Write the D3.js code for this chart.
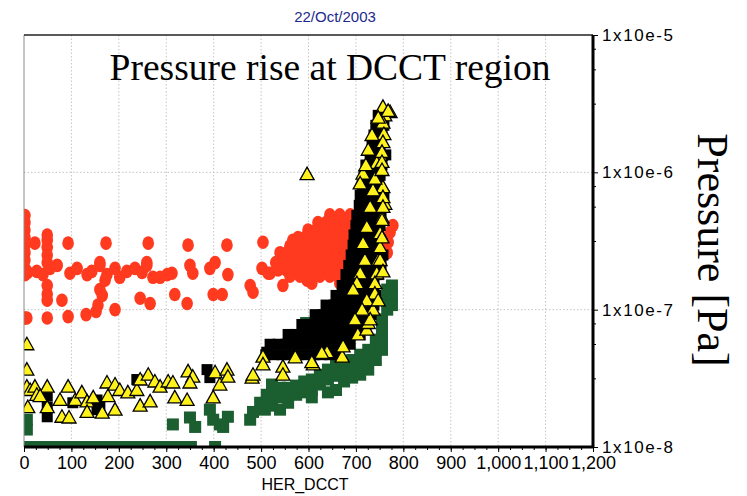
<!DOCTYPE html>
<html><head><meta charset="utf-8">
<script src="https://cdn.jsdelivr.net/npm/d3@7"></script>
<style>body{margin:0;background:#fff}svg{display:block}</style>
</head><body><svg id="c" width="747" height="496"></svg>
<script>
const dateTitle = "22/Oct/2003";
const mainTitle = "Pressure rise at DCCT region";
const xLabel = "HER_DCCT";
const yLabel = "Pressure [Pa]";
const xTicks = [0,100,200,300,400,500,600,700,800,900,1000,1100,1200];
const yTicks = [1e-8,1e-7,1e-6,1e-5];
const yTickLabels = ["1x10e-8","1x10e-7","1x10e-6","1x10e-5"];

// red circles (gauge 1)
const red = [
[2,4.85e-7],[2,4.3e-7],[2,3.8e-7],[2,3.35e-7],[2,2.95e-7],[2,2.6e-7],[2,2.3e-7],[2,2.0e-7],[2,1.8e-7],[2,8.7e-8],
[23,3.05e-7],[49,3.5e-7],[49,3.2e-7],[49,2.85e-7],[93,3.05e-7],[173,3.05e-7],[262,3.05e-7],[346,2.95e-7],[428,2.95e-7],[504,3.1e-7],
[8,1.87e-7],[27,1.9e-7],[40,1.8e-7],[55,2.0e-7],[70,2.1e-7],[97,1.84e-7],[112,2.0e-7],[133,1.8e-7],[143,1.9e-7],[160,2.1e-7],[175,1.8e-7],[192,2.0e-7],[202,1.72e-7],[217,1.9e-7],[234,2.0e-7],[249,1.87e-7],[259,2.1e-7],[272,1.72e-7],[287,1.72e-7],[302,1.8e-7],[312,1.84e-7],
[160,2.2e-7],[259,2.2e-7],[350,2.1e-7],[356,1.84e-7],[392,2.0e-7],[403,2.2e-7],[430,1.8e-7],[502,2.0e-7],[515,1.84e-7],
[49,2.5e-7],[49,2.2e-7],[49,1.5e-7],[49,1.3e-7],[49,1.17e-7],[80,1.17e-7],[160,1.4e-7],[156,1.08e-7],[152,9.7e-8],[171,1.64e-7],[165,1.27e-7],[192,1.0e-7],[245,1.21e-7],[266,1.11e-7],[318,1.29e-7],[344,1.11e-7],[399,1.29e-7],[418,1.29e-7],[477,1.5e-7],[483,1.34e-7],
[6,8.7e-8],[49,8.7e-8],[93,8.9e-8],[131,9.2e-8],
[519,1.84e-7],[546,1.5e-7],[607,1.56e-7],[666,1.56e-7],[567,3.2e-7],[593,3.36e-7],[540,2.6e-7],[597,1.64e-7],[561,2.85e-7],
[645,4.9e-7],[666,4.9e-7],[688,4.9e-7],[704,4.9e-7],
[620,4.3e-7],[637,4.3e-7],[654,4.3e-7],[671,4.3e-7],[688,4.3e-7],
[599,3.8e-7],[616,3.8e-7],[633,3.8e-7],[650,3.8e-7],[666,3.8e-7],[683,3.8e-7],
[578,3.35e-7],[595,3.35e-7],[612,3.35e-7],[628,3.35e-7],[645,3.35e-7],[662,3.35e-7],[679,3.35e-7],
[561,2.9e-7],[578,2.9e-7],[595,2.9e-7],[612,2.9e-7],[628,2.9e-7],[645,2.9e-7],[662,2.9e-7],[679,2.9e-7],
[544,2.55e-7],[561,2.55e-7],[578,2.55e-7],[595,2.55e-7],[612,2.55e-7],[628,2.55e-7],[645,2.55e-7],[662,2.55e-7],[679,2.55e-7],
[531,2.2e-7],[548,2.2e-7],[565,2.2e-7],[582,2.2e-7],[599,2.2e-7],[616,2.2e-7],[633,2.2e-7],[650,2.2e-7],[666,2.2e-7],
[536,1.95e-7],[553,1.95e-7],[569,1.95e-7],[586,1.95e-7],[603,1.95e-7],[620,1.95e-7],[637,1.95e-7],[654,1.95e-7],[671,1.95e-7],
[561,1.75e-7],[582,1.75e-7],[603,1.75e-7],[624,1.75e-7],[645,1.75e-7],[662,1.75e-7],
[772,3.66e-7],[766,2.6e-7],[778,4.1e-7],[768,3.1e-7]
];

// dark green squares (gauge 2)
const green = [
[11,1e-8],[28,1e-8],[45,1e-8],[62,1e-8],[79,1e-8],[96,1e-8],[113,1e-8],[130,1e-8],[147,1e-8],[164,1e-8],[181,1e-8],[198,1e-8],[215,1e-8],[232,1e-8],[249,1e-8],[266,1e-8],[283,1e-8],[300,1e-8],[317,1e-8],[334,1e-8],[352,1e-8],[403,1e-8],
[6,1.58e-8],[6,1.34e-8],[314,1.46e-8],[350,1.64e-8],[361,1.4e-8],[392,1.87e-8],[399,1.58e-8],[420,1.4e-8],[430,1.66e-8],[413,1.46e-8],[477,1.58e-8],[498,2.1e-8],[512,2.4e-8],[508,1.87e-8],[483,1.8e-8],[595,8.0e-8],
[523,2.85e-8],[523,2.4e-8],[523,2.0e-8],
[540,2.7e-8],[540,2.3e-8],[540,1.87e-8],
[557,2.7e-8],[557,2.35e-8],[557,2.1e-8],
[574,2.8e-8],[574,2.4e-8],
[591,3.0e-8],[591,2.5e-8],
[607,3.1e-8],[607,2.6e-8],[607,2.3e-8],
[624,3.36e-8],[624,2.85e-8],
[641,3.66e-8],[641,3.1e-8],[641,2.5e-8],
[658,3.9e-8],[658,3.3e-8],[658,2.6e-8],
[675,4.15e-8],[675,3.55e-8],[675,3.0e-8],
[692,4.3e-8],[692,3.66e-8],[692,3.2e-8],
[709,4.7e-8],[709,4.0e-8],[709,3.36e-8],
[726,5.1e-8],[726,4.3e-8],[726,3.66e-8],
[742,6.05e-8],[742,5.1e-8],[742,4.3e-8],
[755,8.5e-8],[755,7.15e-8],[755,6.05e-8],[755,5.1e-8],
[766,1.4e-7],[766,1.17e-7],[766,1.0e-7],
[776,1.5e-7],[776,1.27e-7],[776,1.08e-7]
];

// black squares (gauge 3)
const black = [
[49,2.35e-8],[49,1.95e-8],[49,1.66e-8],[154,2.2e-8],[154,1.87e-8],[160,2.0e-8],[238,3.1e-8],[386,3.66e-8],[392,3.2e-8],[103,2.1e-8],[512,4.9e-8],
[747,2.6e-6],[761,2.6e-6],
[742,2.2e-6],[759,2.2e-6],
[738,1.87e-6],[755,1.87e-6],
[734,1.58e-6],[751,1.58e-6],
[730,1.34e-6],[747,1.34e-6],[763,1.34e-6],
[721,1.13e-6],[738,1.13e-6],[755,1.13e-6],
[717,9.5e-7],[734,9.5e-7],[751,9.5e-7],
[713,8.0e-7],[730,8.0e-7],[747,8.0e-7],
[709,6.8e-7],[726,6.8e-7],[742,6.8e-7],[759,6.8e-7],
[707,5.75e-7],[723,5.75e-7],[740,5.75e-7],[757,5.75e-7],
[702,4.85e-7],[719,4.85e-7],[736,4.85e-7],[753,4.85e-7],
[700,4.1e-7],[717,4.1e-7],[734,4.1e-7],[751,4.1e-7],
[696,3.5e-7],[713,3.5e-7],[730,3.5e-7],[747,3.5e-7],
[694,2.95e-7],[711,2.95e-7],[728,2.95e-7],[744,2.95e-7],
[690,2.5e-7],[707,2.5e-7],[723,2.5e-7],[740,2.5e-7],[757,2.5e-7],
[685,2.1e-7],[702,2.1e-7],[719,2.1e-7],[736,2.1e-7],[753,2.1e-7],
[679,1.8e-7],[696,1.8e-7],[713,1.8e-7],[730,1.8e-7],[747,1.8e-7],
[671,1.5e-7],[688,1.5e-7],[704,1.5e-7],[721,1.5e-7],[738,1.5e-7],
[658,1.27e-7],[675,1.27e-7],[692,1.27e-7],[709,1.27e-7],[726,1.27e-7],[742,1.27e-7],
[637,1.08e-7],[654,1.08e-7],[671,1.08e-7],[688,1.08e-7],[704,1.08e-7],[721,1.08e-7],[738,1.08e-7],
[614,9.2e-8],[631,9.2e-8],[647,9.2e-8],[664,9.2e-8],[681,9.2e-8],[698,9.2e-8],[715,9.2e-8],[732,9.2e-8],
[586,7.8e-8],[603,7.8e-8],[620,7.8e-8],[637,7.8e-8],[654,7.8e-8],[671,7.8e-8],[688,7.8e-8],[704,7.8e-8],[721,7.8e-8],
[557,6.6e-8],[574,6.6e-8],[591,6.6e-8],[607,6.6e-8],[624,6.6e-8],[641,6.6e-8],[658,6.6e-8],[675,6.6e-8],[692,6.6e-8],[709,6.6e-8],
[519,5.6e-8],[536,5.6e-8],[553,5.6e-8],[569,5.6e-8],[586,5.6e-8],[603,5.6e-8],[620,5.6e-8],[637,5.6e-8],[654,5.6e-8],[671,5.6e-8],[688,5.6e-8],
[510,4.7e-8],[527,4.7e-8],[544,4.7e-8],[561,4.7e-8],[578,4.7e-8],[595,4.7e-8],[612,4.7e-8],[628,4.7e-8],[645,4.7e-8],[662,4.7e-8]
];

// yellow triangles (gauge 4)
const yellow = [
[6,5.6e-8],[6,3.66e-8],[6,2.75e-8],[13,2.6e-8],[23,2.75e-8],[27,2.4e-8],[8,1.95e-8],[49,2.75e-8],[49,1.95e-8],[34,2.35e-8],
[76,2.2e-8],[80,1.66e-8],[93,2.75e-8],[95,1.64e-8],[108,2.2e-8],[122,2.5e-8],[133,2.15e-8],[133,1.8e-8],[146,2.3e-8],[165,1.78e-8],
[175,2.95e-8],[177,2.35e-8],[192,1.87e-8],[192,2.85e-8],[202,2.6e-8],[219,2.5e-8],[238,2.6e-8],[245,3.1e-8],[245,2.0e-8],[262,3.36e-8],
[266,2.15e-8],[276,3.0e-8],[287,2.75e-8],[304,3.0e-8],[314,2.95e-8],[318,2.3e-8],[344,2.2e-8],[346,3.55e-8],[356,3.25e-8],[350,2.95e-8],
[403,3.5e-8],[413,2.85e-8],[428,3.66e-8],[430,3.25e-8],[399,2.3e-8],[481,3.2e-8],[483,3.36e-8],[504,4.55e-8],[504,4.0e-8],
[546,3.85e-8],[546,3.36e-8],[572,4.5e-8],[610,4.0e-8],[607,4.15e-8],[639,4.9e-8],[628,4.85e-8],[671,4.55e-8],[673,5.4e-8],[704,6.6e-8],[723,7.15e-8],[726,8.0e-8],
[597,9.7e-7],
[751,1.34e-6],[744,1.17e-6],[757,7.8e-7],[761,5.9e-7],[755,4.7e-7],[751,3.6e-7],[751,2.85e-7],[747,2.3e-7],[744,1.84e-7],[740,1.56e-7],[740,1.31e-7],[736,1.0e-7],[730,8.5e-8],
[715,3.05e-7],[723,4.0e-7],[730,5.6e-7],[736,7.4e-7],[740,9.0e-7],[715,9.8e-7],[709,8.3e-7],[719,2.3e-7],[709,1.84e-7],[702,1.56e-7],[694,1.4e-7],
[772,2.75e-6],[761,2.6e-6],[757,2.3e-6],[759,1.9e-6],[757,1.66e-6],[755,1.41e-6],[755,1.19e-6],[755,1.04e-6],[757,6.6e-7],[757,5.6e-7],[755,4.5e-7],[755,3.36e-7],[751,2.3e-7],
[757,3.0e-6],[768,2.8e-6],[747,2.5e-6],[734,1.87e-6],[726,1.46e-6],[721,1.13e-6],
[723,1.17e-7],[713,1.0e-7],[698,8.5e-8],[747,1.17e-7],[757,1.9e-7]
];

const svg = d3.select('#c');
const L = 24, R = 593, T = 35, B = 447;
const x = d3.scaleLinear().domain([0,1200]).range([L,R]);
const y = d3.scaleLog().domain([1e-8,1e-5]).range([B,T]);

// grid
const grid = svg.append('g');
grid.selectAll('line.v').data(xTicks.slice(1,-1)).join('line')
  .attr('x1',d=>x(d)).attr('x2',d=>x(d)).attr('y1',T).attr('y2',B)
  .attr('stroke','#c4c4c4').attr('stroke-width',1).attr('stroke-dasharray','1.5,2');
grid.selectAll('line.h').data(yTicks.slice(1,-1)).join('line')
  .attr('y1',d=>y(d)).attr('y2',d=>y(d)).attr('x1',L).attr('x2',R)
  .attr('stroke','#c4c4c4').attr('stroke-width',1).attr('stroke-dasharray','1.5,2');

svg.append('clipPath').attr('id','pc').append('rect')
  .attr('x',L).attr('y',T).attr('width',R-L).attr('height',B-T);
const plot = svg.append('g').attr('clip-path','url(#pc)');

plot.append('g').selectAll('ellipse').data(red).join('ellipse')
  .attr('cx',d=>x(d[0])).attr('cy',d=>y(d[1])).attr('rx',5.8).attr('ry',6.8)
  .attr('fill','#ff3a1f');
plot.append('g').selectAll('rect').data(green).join('rect')
  .attr('x',d=>x(d[0])-6).attr('y',d=>y(d[1])-6).attr('width',12).attr('height',12)
  .attr('fill','#1b5e2f');
plot.append('g').selectAll('rect').data(black).join('rect')
  .attr('x',d=>x(d[0])-5.5).attr('y',d=>y(d[1])-5.5).attr('width',11).attr('height',11)
  .attr('fill','#000');
plot.append('g').selectAll('path').data(yellow).join('path')
  .attr('transform',d=>`translate(${x(d[0])},${y(d[1])})`)
  .attr('d','M0,-7L7,5.5L-7,5.5Z')
  .attr('fill','#fff21c').attr('stroke','#000').attr('stroke-width',1.3).attr('stroke-linejoin','miter');

// frame
svg.append('line').attr('x1',L).attr('x2',L).attr('y1',T).attr('y2',B).attr('stroke','#8a8a8a').attr('stroke-width',1);
svg.append('line').attr('x1',L).attr('x2',R).attr('y1',T).attr('y2',T).attr('stroke','#222').attr('stroke-width',1.5);

// x axis
const minorX = d3.range(0,1201,25);
const xAx = svg.append('g').attr('transform',`translate(0,${B})`)
  .call(d3.axisBottom(x).tickValues(xTicks).tickFormat(d3.format(',')).tickSize(5).tickPadding(4));
svg.append('g').attr('transform',`translate(0,${B})`)
  .call(d3.axisBottom(x).tickValues(minorX).tickFormat('').tickSize(3))
  .select('.domain').remove();
xAx.select('.domain').attr('stroke','#000').attr('stroke-width',3).attr('d',`M${L},0H${R}`);
xAx.selectAll('text').attr('font-family','Liberation Sans, Arial, sans-serif').attr('font-size',18).attr('fill','#000');

// y axis right
const minorY = [];
[1e-8,1e-7,1e-6].forEach(b=>{[10**0.5,10**0.75,10**0.9].forEach(f=>minorY.push(b*f));});
const yAx = svg.append('g').attr('transform',`translate(${R},0)`)
  .call(d3.axisRight(y).tickValues(yTicks).tickFormat((d,i)=>yTickLabels[i]).tickSize(5).tickPadding(4));
svg.append('g').attr('transform',`translate(${R},0)`)
  .call(d3.axisRight(y).tickValues(minorY).tickFormat('').tickSize(3))
  .select('.domain').remove();
yAx.select('.domain').attr('stroke','#000').attr('stroke-width',3).attr('d',`M0,${T}V${B}`);
yAx.selectAll('text').attr('font-family','Liberation Sans, Arial, sans-serif').attr('font-size',17)
  .attr('letter-spacing','1.6px').attr('fill','#000');

// titles
svg.append('text').attr('x',335).attr('y',22).attr('text-anchor','middle')
  .attr('font-family','Liberation Sans, Arial, sans-serif').attr('font-size',15).attr('fill','#1c2a8c').text(dateTitle);
svg.append('text').attr('x',330).attr('y',80).attr('text-anchor','middle')
  .attr('font-family','Liberation Serif, Times New Roman, serif').attr('font-size',37.5).attr('fill','#000').text(mainTitle);
svg.append('text').attr('x',305).attr('y',490).attr('text-anchor','middle')
  .attr('font-family','Liberation Sans, Arial, sans-serif').attr('font-size',16).attr('fill','#000').text(xLabel);
svg.append('text').attr('transform','translate(698,250) rotate(90)').attr('text-anchor','middle')
  .attr('font-family','Liberation Serif, Times New Roman, serif').attr('font-size',44).attr('fill','#000').text(yLabel);
</script></body></html>
